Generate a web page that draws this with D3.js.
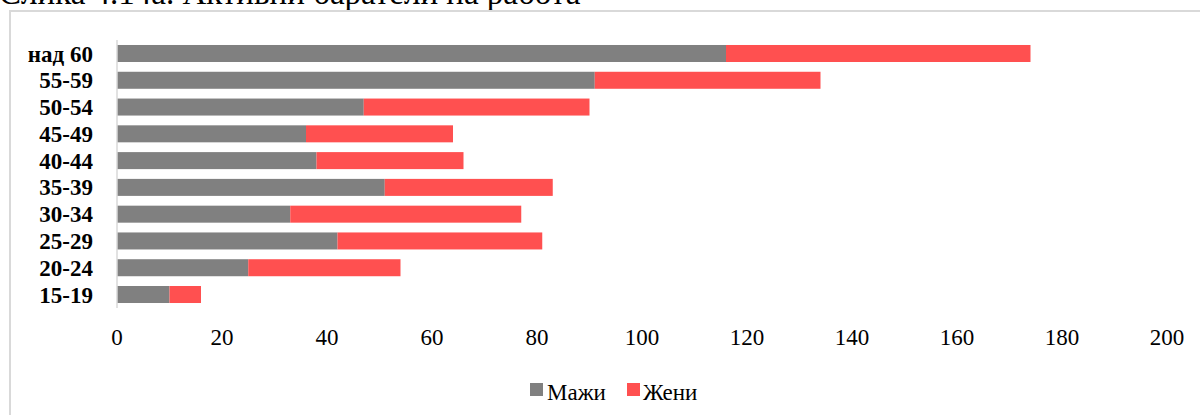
<!DOCTYPE html>
<html>
<head>
<meta charset="utf-8">
<script src="https://cdn.jsdelivr.net/npm/d3@7/dist/d3.min.js"></script>
<style>
  html, body { margin: 0; padding: 0; background: #fff; }
  svg { display: block; }
  text { font-family: "Liberation Serif", "Times New Roman", serif; }
</style>
</head>
<body>
<svg id="chart" width="1200" height="415"></svg>
<script>
const categories = ["над 60", "55-59", "50-54", "45-49", "40-44", "35-39", "30-34", "25-29", "20-24", "15-19"];
const men   = [116, 91, 47, 36, 38, 51, 33, 42, 25, 10];
const women = [58, 43, 43, 28, 28, 32, 44, 39, 29, 6];
const seriesNames = ["Мажи", "Жени"];
const seriesColors = ["#808080", "#FF5050"];
const xTicks = [0, 20, 40, 60, 80, 100, 120, 140, 160, 180, 200];
const titleText = "Слика 4.14а. Активни баратели на работа";

const svg = d3.select("#chart");

// title (cut off at top)
svg.append("text")
  .attr("x", -1).attr("y", 4)
  .attr("font-size", 33)
  .attr("fill", "#000")
  .text(titleText);

// chart border
svg.append("rect")
  .attr("x", 10).attr("y", 11)
  .attr("width", 1200).attr("height", 420)
  .attr("fill", "none")
  .attr("stroke", "#d9d9d9")
  .attr("stroke-width", 2);

const x = d3.scaleLinear().domain([0, 200]).range([117, 1167]);
const y = d3.scaleBand().domain(categories).range([40.1, 307.9])
  .paddingInner(0.365).paddingOuter(0.1825);

const data = categories.map((c, i) => ({ cat: c, vals: [men[i], women[i]] }));
const stacked = d3.stack().keys([0, 1]).value((d, k) => d.vals[k])(data);

stacked.forEach((layer, si) => {
  svg.append("g").selectAll("rect")
    .data(layer)
    .join("rect")
    .attr("x", d => x(d[0]))
    .attr("y", d => y(d.data.cat))
    .attr("width", d => x(d[1]) - x(d[0]))
    .attr("height", y.bandwidth())
    .attr("fill", seriesColors[si]);
});

// category axis line
svg.append("line")
  .attr("x1", x(0)).attr("x2", x(0))
  .attr("y1", 40).attr("y2", 308)
  .attr("stroke", "#d9d9d9").attr("stroke-width", 1.5);

// category labels
svg.append("g").selectAll("text")
  .data(categories)
  .join("text")
  .attr("x", 93)
  .attr("y", d => y(d) + y.bandwidth() / 2)
  .attr("dy", "0.35em")
  .attr("text-anchor", "end")
  .attr("font-size", 23)
  .attr("font-weight", "bold")
  .attr("fill", "#000")
  .text(d => d);

// x tick labels
svg.append("g").selectAll("text")
  .data(xTicks)
  .join("text")
  .attr("x", d => x(d))
  .attr("y", 345)
  .attr("text-anchor", "middle")
  .attr("font-size", 23)
  .attr("fill", "#000")
  .text(d => d);

// legend
const legendItems = [{ x: 530, tx: 547 }, { x: 627, tx: 643 }];
legendItems.forEach((it, i) => {
  svg.append("rect")
    .attr("x", it.x).attr("y", 383)
    .attr("width", 13).attr("height", 13)
    .attr("fill", seriesColors[i]);
  svg.append("text")
    .attr("x", it.tx).attr("y", 400)
    .attr("font-size", 23)
    .attr("fill", "#000")
    .text(seriesNames[i]);
});
</script>
</body>
</html>
